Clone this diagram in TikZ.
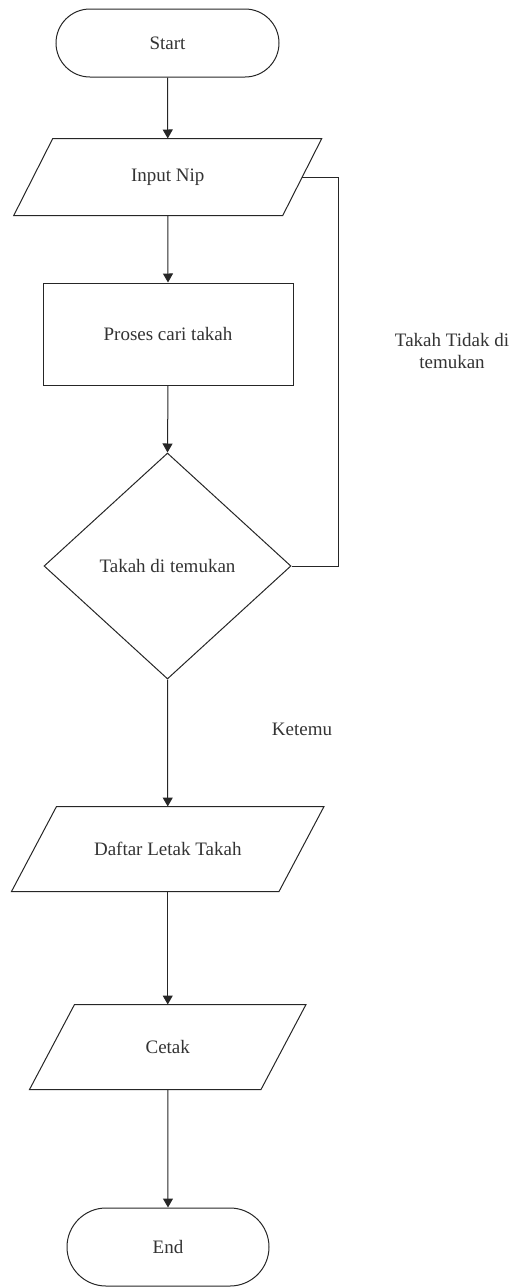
\documentclass[tikz,border=0pt]{standalone}
\usepackage{fontspec}
\setmainfont{Liberation Serif}
\usetikzlibrary{arrows.meta,shapes.geometric,calc}
\definecolor{ink}{HTML}{262626}
\definecolor{txt}{HTML}{333333}
\tikzset{
  base/.style={line width=1pt, draw=ink, text=txt, font=\fontsize{19}{23}\selectfont, inner sep=0pt, align=center},
  term/.style={base, rectangle, rounded corners=#1},
  proc/.style={base, rectangle},
  decis/.style={base, diamond},
  iobox/.style={base, draw=none, rectangle},
  lbl/.style={text=txt, font=\fontsize{19}{22}\selectfont, align=center},
  conn/.style={line width=1pt, draw=ink, -{Triangle[width=10pt,length=9pt]}},
  loopline/.style={line width=1pt, draw=ink},
}
\newcommand{\iopath}[2]{% node name, offset
  \draw[line width=1pt, draw=ink, line join=miter]
    ($(#1.north west)+(#2/2,0)$) -- ($(#1.north east)+(#2/2,0)$) --
    ($(#1.south east)-(#2/2,0)$) -- ($(#1.south west)-(#2/2,0)$) -- cycle;}
\begin{document}
\begin{tikzpicture}[x=1pt,y=-1pt]
\useasboundingbox (0,0) rectangle (516,1288);
\node[term=34pt, minimum width=223pt, minimum height=68pt] (start) at (167.5,43) {Start};
\node[iobox, minimum width=268pt, minimum height=76pt] (inp) at (167.75,177) {Input Nip};
\iopath{inp}{39}
\node[proc, minimum width=250pt, minimum height=102pt] (cari) at (168,334) {Proses cari takah};
\node[decis, minimum width=247pt, minimum height=226pt] (dec) at (167.5,566) {Takah di temukan};
\node[iobox, minimum width=266.5pt, minimum height=84pt] (daf) at (167.75,849) {Daftar Letak Takah};
\iopath{daf}{45}
\node[iobox, minimum width=230.5pt, minimum height=84pt] (cet) at (167.75,1047) {Cetak};
\iopath{cet}{45}
\node[term=39pt, minimum width=202pt, minimum height=78pt] (end) at (168,1247) {End};

\node[lbl] (tidak) at (452,351) {Takah Tidak di\\temukan};
\node[lbl] (ketemu) at (302,729) {Ketemu};

\coordinate (c1) at (338,566);
\coordinate (c2) at (338,177);

\draw[conn] (start.south) -- (inp.north);
\draw[conn] (inp.south) -- (cari.north);
\draw[conn] (cari.south) -- (dec.north);
\draw[conn] (dec.south) -- (daf.north);
\draw[conn] (daf.south) -- (cet.north);
\draw[conn] (cet.south) -- (end.north);
\draw[loopline] (dec.east) -- (c1) -- (c2) -- (inp.east);
\end{tikzpicture}
\end{document}
